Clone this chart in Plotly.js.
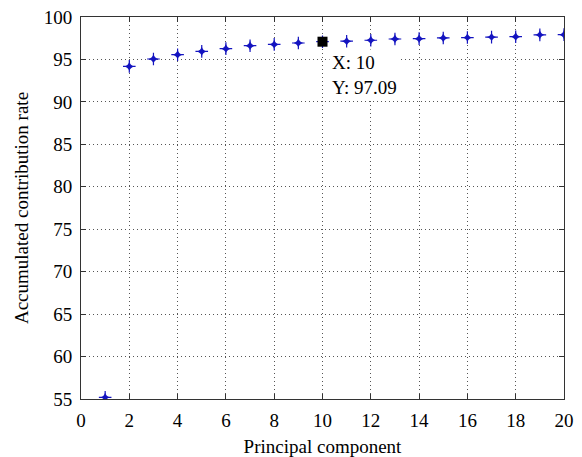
<!DOCTYPE html>
<html>
<head>
<meta charset="utf-8">
<script src="https://cdn.plot.ly/plotly-3.0.1.min.js"></script>
<style>html,body{margin:0;padding:0;background:#fff;}#chart{width:582px;height:457px;}</style>
</head>
<body>
<div id="chart"></div>
<script>
// Principal component index
var components = [1,2,3,4,5,6,7,8,9,10,11,12,13,14,15,16,17,18,19,20];
// Accumulated contribution rate (%)
var accumulatedRate = [55.2,94.18,95.05,95.56,95.95,96.27,96.62,96.77,96.94,97.09,97.15,97.26,97.41,97.45,97.53,97.58,97.63,97.68,97.9,97.92];
// Data tip (MATLAB datatip) on component 10
var tipIndex = 9;
var xTicks = [0,2,4,6,8,10,12,14,16,18,20];
var yTicks = [55,60,65,70,75,80,85,90,95,100];

var fontFam = '"Liberation Serif", "Times New Roman", serif';
var tipX = components[tipIndex], tipY = accumulatedRate[tipIndex];
var blue = '#1414c0';

var traces = [
  {
    x: components, y: accumulatedRate, type: 'scatter', mode: 'markers',
    marker: {symbol: 'star-diamond', size: 7, color: blue, line: {width: 0}},
    hoverinfo: 'skip', showlegend: false
  },
  {
    x: components, y: accumulatedRate, type: 'scatter', mode: 'markers',
    marker: {symbol: 'cross-thin-open', size: 9, color: blue, line: {color: blue, width: 1.2}},
    hoverinfo: 'skip', showlegend: false
  },
  {
    x: [tipX], y: [tipY], type: 'scatter', mode: 'markers',
    marker: {symbol: 'square', size: 10, color: '#000000', line: {width: 0}},
    hoverinfo: 'skip', showlegend: false
  }
];

var axisCommon = {
  showline: true, linecolor: '#333333', linewidth: 1, mirror: 'ticks',
  ticks: 'inside', ticklen: 5, tickcolor: '#333333', tickwidth: 1,
  showgrid: true, gridcolor: '#555555', gridwidth: 1, griddash: '1px,3px',
  zeroline: false, tickfont: {family: fontFam, size: 19, color: '#000'}
};

var layout = {
  width: 582, height: 457,
  margin: {l: 81, r: 18, t: 17, b: 58},
  paper_bgcolor: '#ffffff', plot_bgcolor: '#ffffff',
  font: {family: fontFam, color: '#000'},
  xaxis: Object.assign({}, axisCommon, {
    range: [0, 20], tickmode: 'array', tickvals: xTicks, ticktext: xTicks.map(String),
    ticklabelstandoff: 4,
    title: {text: 'Principal component', font: {family: fontFam, size: 19, color: '#000'}, standoff: 10}
  }),
  yaxis: Object.assign({}, axisCommon, {
    range: [55, 100], tickmode: 'array', tickvals: yTicks, ticktext: yTicks.map(String),
    ticklabelstandoff: 4,
    title: {text: 'Accumulated contribution rate', font: {family: fontFam, size: 19, color: '#000'}, standoff: 10}
  }),
  annotations: [
    {
      x: tipX, y: tipY, xref: 'x', yref: 'y', showarrow: false,
      xanchor: 'left', yanchor: 'top', xshift: 6, yshift: -7, align: 'left',
      text: 'X: ' + tipX + '<br>Y: ' + tipY.toFixed(2),
      font: {family: fontFam, size: 19, color: '#000'},
      bgcolor: '#ffffff', borderpad: 2
    }
  ]
};

Plotly.newPlot('chart', traces, layout, {staticPlot: true, displayModeBar: false});
</script>
</body>
</html>
